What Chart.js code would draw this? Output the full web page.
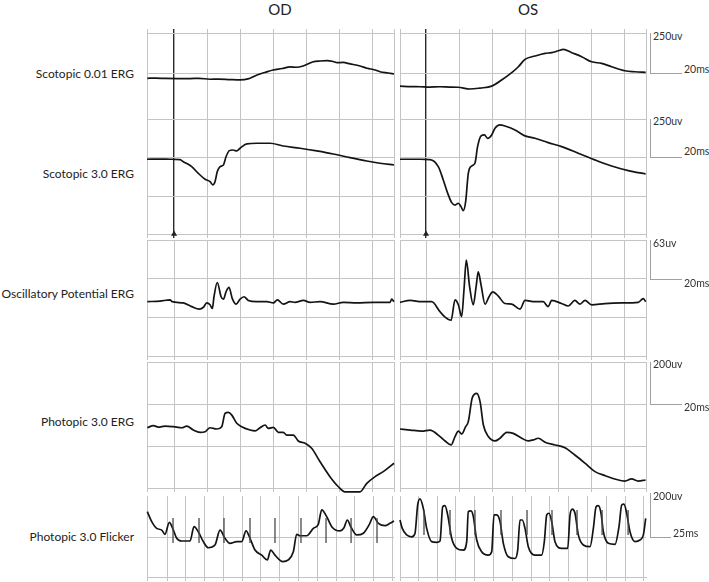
<!DOCTYPE html>
<html>
<head>
<meta charset="utf-8">
<script src="https://cdn.jsdelivr.net/npm/chart.js@4.4.1/dist/chart.umd.min.js"></script>
<style>
  html, body { margin: 0; padding: 0; background: #fff; }
  #wrap { position: relative; width: 709px; height: 582px; overflow: hidden;
          font-family: Lato, "Open Sans", sans-serif; color: #222; }
  #wrap canvas { position: absolute; }
  .lbl { position: absolute; right: 575px; font-size: 12px; white-space: nowrap; transform: translateY(-50%); }
  .ttl { position: absolute; font-size: 15px; transform: translate(-50%, -50%); }
  .unit { position: absolute; font-size: 10.5px; white-space: nowrap; transform: translateY(-50%); color: #333; }
  .bar { position: absolute; background: #a0a0a0; }
</style>
</head>
<body>
<div id="wrap">
  <div class="ttl" style="left:280px;top:9px">OD</div>
  <div class="ttl" style="left:528px;top:9px">OS</div>
  <div class="lbl" style="top:73px">Scotopic 0.01 ERG</div>
  <div class="lbl" style="top:173px">Scotopic 3.0 ERG</div>
  <div class="lbl" style="top:293px">Oscillatory Potential ERG</div>
  <div class="lbl" style="top:421px">Photopic 3.0 ERG</div>
  <div class="lbl" style="top:536px">Photopic 3.0 Flicker</div>
  <canvas id="odScot"></canvas><canvas id="osScot"></canvas>
  <canvas id="odOp"></canvas><canvas id="osOp"></canvas>
  <canvas id="odPhot"></canvas><canvas id="osPhot"></canvas>
  <canvas id="odFlk"></canvas><canvas id="osFlk"></canvas>
</div>
<script>
// traces: [time ms, amplitude uv]
const odScotopic001 = [[-16.2,1],[-11,2],[-5.5,0],[2,-1],[9.7,-1],[15,1],[21.8,-5],[27,-4],[33.9,-7],[40,-9],[44.8,-3],
  [50.3,22],[55,37],[60,53],[65.5,62],[70.3,72],[74,70],[78.2,78],[81,90],[84,103],[88.5,109],[92.7,111],[96.4,106],
  [98.8,99],[102.4,100],[106.7,91],[112.7,78],[117,64],[121.8,53],[124.8,42],[129.7,34],[133.3,28]];
const odScotopic30 = [[-16.4,0],[-8,1],[-2.4,0],[3.6,-2],[5.6,-15],[10.7,-46],[14.7,-88],[18.8,-125],[21.8,-140],
  [23.5,-160],[24.8,-140],[26.2,-77],[27.9,-46],[29.9,-36],[31.5,16],[33.5,54],[35.6,58],[38,52],[40,69],[44.1,96],
  [50.1,100],[58.2,100],[66.2,83],[76.4,69],[86.5,52],[96.5,33],[106.7,10],[116.8,-11],[124.8,-25],[133.3,-36]];
const osScotopic001 = [[-15.7,4],[-9,1],[-3.6,0],[2,-2],[8.4,0],[14,-2],[19.3,-3],[26.5,-14],[32.6,-8],[39.6,4],
  [45.6,42],[51.7,88],[55.7,125],[59.7,171],[65.7,192],[71.8,209],[75.8,213],[79.8,225],[82.8,234],[87.9,213],
  [93.9,188],[99.9,156],[105.9,146],[112,125],[120,100],[126,94],[132.5,90]];
const osScotopic30 = [[-15.7,0],[-3.6,0],[2.4,-2],[7.4,-46],[10.4,-129],[13.1,-213],[15.5,-271],[17.5,-286],
  [19.5,-275],[21.1,-296],[22.5,-321],[23.9,-265],[25.5,-88],[27.5,-42],[29.5,-25],[31.1,79],[33.2,146],[35.2,152],
  [37.2,131],[39.6,152],[41.6,194],[44.6,215],[47.6,208],[53.7,183],[59.7,146],[65.7,131],[73.7,104],[81.8,79],
  [91.8,38],[101.9,-4],[112,-42],[122,-71],[132.5,-92]];
const odOscillatory = [[-16.2,0],[-8.5,1],[-2.4,3],[-1.2,0],[5.6,-2],[10.7,-8],[15.3,-12],[17.8,-9],[19.8,-2],
  [21.8,-5],[23.2,-11],[24.2,8],[26.2,31],[28.5,8],[29.9,4],[31.5,16],[33.3,23],[35.3,5],[37.6,-4],[40,4],[42.4,8],
  [45,2],[50.1,0],[56.2,0],[60.2,-2],[62.6,3],[66.2,-4],[70.3,0],[73.3,-1],[78.4,2],[82.4,-1],[88.5,0],[96.5,-4],
  [102.6,-1],[110.7,-2],[120.8,-1],[130.9,-1],[131.9,4],[133.3,0]];
const osOscillatory = [[-15.7,-1],[-9.6,2],[-2.6,0],[3.4,0],[8.4,-16],[11.5,-25],[15.1,-30],[17.5,3],[19.5,-5],
  [21.5,-24],[22.9,19],[24.3,67],[26.3,24],[28.5,-5],[30.2,24],[31.5,48],[33.2,27],[35.6,-4],[38,8],[40.2,16],
  [43.6,9],[47.6,-3],[51.7,-4],[56.7,-12],[59.7,2],[65.7,0],[70.7,0],[73.7,-8],[75.8,2],[81.8,-3],[85.8,-7],
  [89.8,2],[92.9,-4],[95.9,2],[99.9,-5],[107.9,-3],[118,-2],[128,-1],[131,5],[132.5,0]];
const odPhotopic = [[-16.2,-5],[-12.5,5],[-9.5,-2],[-5.5,3],[-0.4,0],[4.7,-5],[7.7,3],[11.7,-16],[15.8,-27],
  [18.8,-24],[21.8,-5],[25.9,-11],[28.9,0],[30.9,63],[32.9,68],[35,55],[38,16],[41,0],[46.1,-16],[49.1,-20],
  [52.1,-5],[55.2,8],[57.1,-8],[60.2,-3],[63.2,-27],[66.2,-27],[68.3,-40],[72.3,-40],[75.3,-68],[79.4,-79],
  [83.4,-103],[88.5,-167],[94.5,-238],[99.6,-286],[103.6,-310],[108.7,-310],[112.7,-310],[116.8,-270],
  [121.8,-238],[126.8,-214],[133.3,-174]];
const osPhotopic = [[-15.7,0],[-9.6,-5],[-2.6,-10],[2.4,-5],[7.4,-29],[11.5,-57],[15.1,-76],[17.5,-36],[19.5,-10],
  [21.5,-24],[23.9,11],[25.5,35],[27.9,149],[30.6,170],[32.6,130],[34.6,19],[37.6,-36],[41.6,-57],[44.6,-44],
  [48.7,-16],[52.6,-21],[57.7,-44],[61.7,-57],[64.7,-52],[67.7,-44],[71.8,-63],[77.8,-76],[83.8,-89],[89.8,-124],
  [95.9,-163],[101.9,-203],[107.9,-222],[113.9,-238],[120,-248],[124,-238],[128,-248],[132.5,-243]];
const odFlicker = [[-26.2,121],[-20.3,73],[-13.7,41],[-7,33],[-2.7,13],[3.1,70],[7.6,41],[12.9,-6],[19.6,-19],
  [30.6,-19],[35.9,49],[41.6,25],[48.3,-22],[54.9,-51],[63.8,-38],[70.5,33],[77.1,-6],[83.8,-30],[92.7,-22],
  [99.4,-22],[105.1,29],[110.4,-6],[117,-62],[126,-86],[133.4,-109],[137.9,-62],[143.6,-86],[153.9,-117],
  [161.3,-109],[168,-70],[172.5,13],[176.9,6],[185.8,6],[194.6,41],[201.2,60],[205.8,129],[212.4,97],[219.1,49],
  [230.1,29],[235.4,44],[239.8,81],[244.4,49],[252.3,10],[261.1,18],[269.1,60],[274.4,97],[281.1,65],[290,54],
  [296.6,65],[302,76]];
const osFlicker = [[-24.3,81],[-21.3,41],[-15.4,10],[-8.8,1],[-4.4,17],[-0.8,152],[2.3,181],[6.7,136],[11.2,41],
  [17.8,-22],[24.5,-25],[28.9,-19],[32.5,144],[35.5,149],[39.1,105],[44.4,-6],[51.1,-54],[59.9,-62],[64.4,-22],
  [66.5,121],[70.1,124],[73.2,97],[77.7,-14],[84.3,-70],[93.1,-86],[97.6,-70],[100.7,105],[104.3,105],[108.7,73],
  [113.1,-30],[119.7,-94],[128.6,-102],[132.2,-62],[135.3,81],[138.3,81],[141.9,41],[146.3,-46],[155.2,-86],
  [164.1,-86],[167.6,-22],[170.8,105],[173.8,113],[177.4,73],[181.8,-22],[190.7,-54],[198.7,-54],[201.8,105],
  [204.8,133],[208.4,113],[212.8,10],[219.5,-38],[228.4,-46],[232.8,41],[236.4,144],[239.4,149],[243,113],
  [246.1,25],[252.7,-30],[261.6,-35],[266.9,49],[270.5,152],[273.5,156],[277.1,113],[281.5,25],[288.2,-22],
  [294.9,-14],[299.3,10],[302.4,89]];
// flicker stimulus times (ms) and the level the markers sit at (uv)
const odStimulus = [8, 42.6, 75.8, 110.4, 143.6, 178.2, 211.5, 244.8, 279.3];
const osStimulus = [7.6, 42.2, 75.4, 110, 144.6, 177.8, 211.1, 244.4, 279];
const odStimLevel = 31, osStimLevel = 69;
const triggerTimes = [0];
const msTicks = [0, 20, 40, 60, 80, 100, 120];
const flickerTicks = [0, 25, 50, 75, 100, 125, 150, 175, 200, 225, 250, 275, 300];

const GRID = '#c4c4c4';
const INK = '#141414';

function pts(arr) { return arr.map(p => ({ x: p[0], y: p[1] })); }

function trace(arr, axis) {
  return { data: pts(arr), yAxisID: axis, showLine: true, pointRadius: 0, borderColor: INK,
           borderWidth: 1.7, cubicInterpolationMode: 'monotone', clip: 8 };
}

function ticksOf(values) { return ax => { ax.ticks = values.map(v => ({ value: v })); }; }

function stepTicks(min, max, step) {
  const out = [];
  for (let v = max; v >= min - 0.01; v -= step) out.push(v);
  return out;
}

function makePanel(id, box, cfg) {
  const top = cfg.topStub ? 4 : 0;
  const c = document.getElementById(id);
  c.width = box.r - box.l + 4;
  c.height = box.b - box.t + 4 + 4 + top;
  c.style.left = (box.l - 2) + 'px';
  c.style.top = (box.t - 2 - top) + 'px';
  const xColor = ctx => (cfg.trigger && ctx.tick && ctx.tick.value === 0) ? '#2a2a2a' : GRID;
  const xWidth = ctx => (cfg.trigger && ctx.tick && ctx.tick.value === 0) ? 1.4 : 1;
  const scales = {
    x: { type: 'linear', min: cfg.x[0], max: cfg.x[1], afterBuildTicks: ticksOf(cfg.xTicks),
         ticks: { display: false },
         grid: { color: xColor, lineWidth: xWidth, drawTicks: true, tickLength: 4 },
         border: { color: GRID } },
    y: { type: 'linear', min: cfg.y[0], max: cfg.y[1], afterBuildTicks: ticksOf(cfg.yTicks),
         ticks: { display: false }, grid: { color: GRID, drawTicks: false }, border: { color: GRID } }
  };
  if (cfg.topStub) {
    scales.x2 = { type: 'linear', position: 'top', min: cfg.x[0], max: cfg.x[1], afterBuildTicks: ticksOf(cfg.xTicks),
                  ticks: { display: false },
                  grid: { color: xColor, lineWidth: xWidth, drawOnChartArea: false, drawTicks: true, tickLength: 4 },
                  border: { display: false } };
  }
  Object.assign(scales, cfg.extraAxes || {});
  new Chart(c, {
    type: 'scatter',
    data: { datasets: cfg.datasets },
    options: {
      responsive: false, animation: false, events: [],
      layout: { autoPadding: false, padding: { left: 2, right: 2, top: 2, bottom: 2 } },
      plugins: { legend: { display: false }, tooltip: { enabled: false } },
      scales
    }
  });
}

function hidden(min, max) { return { type: 'linear', display: false, min, max }; }

const OD = { l: 147, r: 394 }, OS = { l: 400, r: 646 };
const rows = { scot: [33, 234], op: [240, 356], phot: [362, 488], flk: [496, 577] };
function box(eye, row) { return { l: eye.l, r: eye.r, t: rows[row][0], b: rows[row][1] }; }

const odX = [-16.4, 133.3], osX = [-15.7, 132.7];
const scotGrid = [0, -250, -538, -775, -1019, -1256];

// Scotopic (both intensities share one frame)
[['odScot', OD, odX, odScotopic001, odScotopic30, [-972, 284]],
 ['osScot', OS, osX, osScotopic001, osScotopic30, [-920, 336]]].forEach(([id, eye, xr, dim, bright, dimRange]) => {
  makePanel(id, box(eye, 'scot'), {
    x: xr, xTicks: [xr[0], ...msTicks, xr[1]], y: [-1256, 0], yTicks: scotGrid, trigger: true, topStub: true,
    extraAxes: { a: hidden(dimRange[0], dimRange[1]), b: hidden(-467, 789) },
    datasets: [
      trace(dim, 'a'), trace(bright, 'b'),
      { data: triggerTimes.map(t => ({ x: t, y: -1256 })), yAxisID: 'y', pointStyle: 'triangle', pointRadius: 3.5,
        backgroundColor: '#222', borderColor: '#222', borderWidth: 0, clip: false }
    ]
  });
});

// Oscillatory potentials
[['odOp', OD, odX, odOscillatory], ['osOp', OS, osX, osOscillatory]].forEach(([id, eye, xr, d]) => {
  const yr = [-87.7, 99.6];
  makePanel(id, box(eye, 'op'), {
    x: xr, xTicks: [xr[0], ...msTicks, xr[1]], y: yr, yTicks: stepTicks(yr[0], yr[1], (yr[1] - yr[0]) / 3),
    datasets: [trace(d, 'y')]
  });
});

// Photopic
[['odPhot', OD, odX, odPhotopic, [-292, 308]], ['osPhot', OS, osX, osPhotopic, [-281, 319]]].forEach(([id, eye, xr, d, yr]) => {
  makePanel(id, box(eye, 'phot'), {
    x: xr, xTicks: [xr[0], ...msTicks, xr[1]], y: yr, yTicks: stepTicks(yr[0], yr[1], 200),
    datasets: [trace(d, 'y')]
  });
});

// Flicker
[['odFlk', OD, [-26.6, 301.9], odFlicker, odStimulus, odStimLevel],
 ['osFlk', OS, [-24.3, 302.8], osFlicker, osStimulus, osStimLevel]].forEach(([id, eye, xr, d, stim, lvl]) => {
  makePanel(id, box(eye, 'flk'), {
    x: xr, xTicks: [xr[0], ...flickerTicks], y: [-190, 195], yTicks: [0, -190],
    datasets: [
      { data: stim.map(t => ({ x: t, y: lvl })), yAxisID: 'y', pointStyle: 'line', rotation: 90, pointRadius: 12.5,
        borderColor: '#4a4a4a', borderWidth: 1.3, clip: false },
      trace(d, 'y')
    ]
  });
});

// calibration bars on the right
const calib = [
  { uv: '250uv', ms: '20ms', top: 33, bot: 73, len: 32, uvY: 36, msY: 69 },
  { uv: '250uv', ms: '20ms', top: 119, bot: 157, len: 32, uvY: 121, msY: 151 },
  { uv: '63uv', ms: '20ms', top: 240, bot: 279, len: 32, uvY: 243, msY: 283 },
  { uv: '200uv', ms: '20ms', top: 362, bot: 404, len: 32, uvY: 364, msY: 407 },
  { uv: '200uv', ms: '25ms', top: 493, bot: 537, len: 21, uvY: 496, msY: 533 }
];
const wrap = document.getElementById('wrap');
calib.forEach(c => {
  const v = document.createElement('div');
  v.className = 'bar';
  v.style.cssText = `left:650px;top:${c.top}px;width:1px;height:${c.bot - c.top}px`;
  const h = document.createElement('div');
  h.className = 'bar';
  h.style.cssText = `left:650px;top:${c.bot}px;width:${c.len}px;height:1px`;
  const u = document.createElement('div');
  u.className = 'unit';
  u.style.cssText = `left:653px;top:${c.uvY}px`;
  u.textContent = c.uv;
  const m = document.createElement('div');
  m.className = 'unit';
  m.style.cssText = `left:${652 + c.len}px;top:${c.msY}px`;
  m.textContent = c.ms;
  wrap.append(v, h, u, m);
});
</script>
</body>
</html>
